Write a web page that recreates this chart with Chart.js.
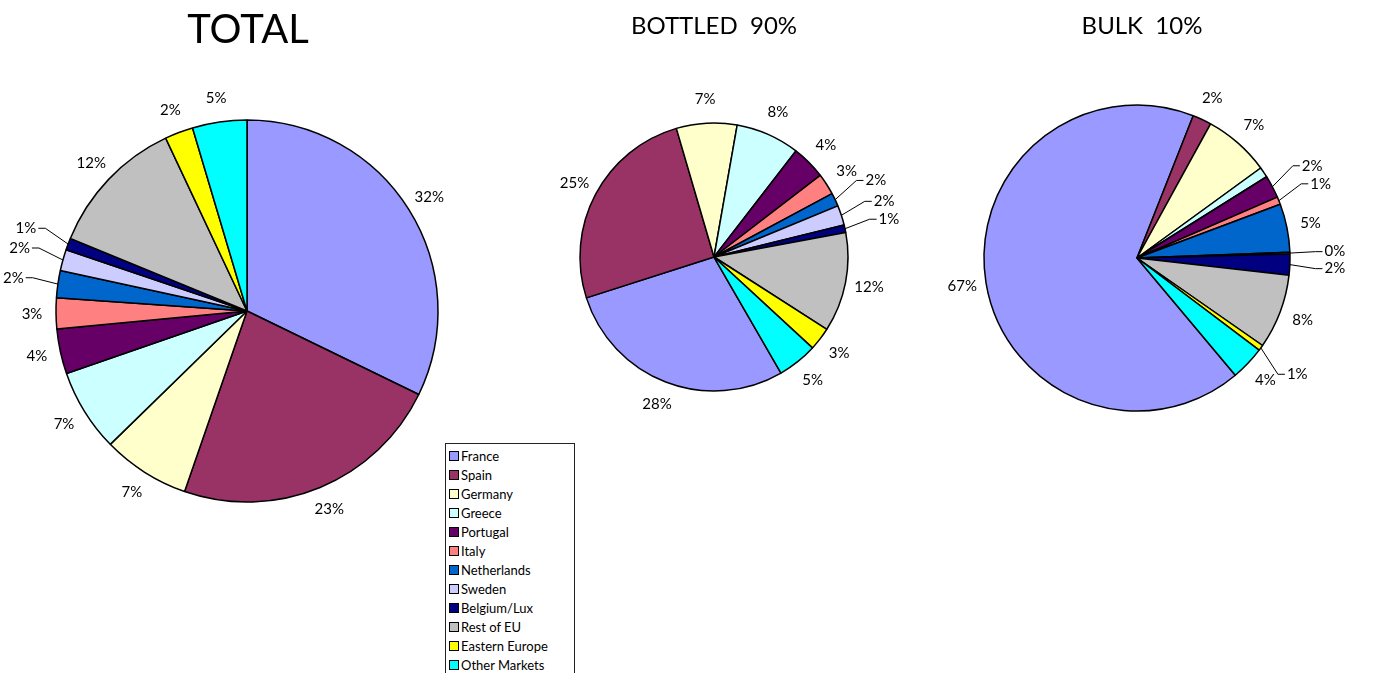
<!DOCTYPE html>
<html>
<head>
<meta charset="utf-8">
<script src="https://cdn.jsdelivr.net/npm/chart.js@4.4.0/dist/chart.umd.min.js"></script>
<style>
html, body { margin: 0; padding: 0; background: #fff; overflow: hidden; }
#wrap { position: relative; width: 1392px; height: 673px; overflow: hidden; font-family: Lato, sans-serif; color: #000; }
canvas { position: absolute; left: 0; top: 0; }
.title { position: absolute; white-space: pre; line-height: 1; transform: translateX(-50%); }
#legend { position: absolute; left: 445px; top: 443px; width: 130px; height: 250px; border: 1px solid #222; box-sizing: border-box; padding-top: 2px; background: #fff; }
.item { height: 19px; display: flex; align-items: center; font-size: 13px; padding-left: 3px; }
.sw { width: 8px; height: 8px; border: 1px solid #000; margin-right: 2px; }
</style>
</head>
<body>
<div id="wrap">
  <canvas id="chartTotal" width="1392" height="673"></canvas>
  <canvas id="chartBottled" width="1392" height="673"></canvas>
  <canvas id="chartBulk" width="1392" height="673"></canvas>
  <div class="title" style="left:248px; top:8px; font-size:40px;">TOTAL</div>
  <div class="title" style="left:714px; top:13px; font-size:24px;">BOTTLED  90%</div>
  <div class="title" style="left:1142px; top:13px; font-size:24px;">BULK  10%</div>
  <div id="legend"></div>
</div>
<script>
// Data
const categories = ['France', 'Spain', 'Germany', 'Greece', 'Portugal', 'Italy', 'Netherlands',
                    'Sweden', 'Belgium/Lux', 'Rest of EU', 'Eastern Europe', 'Other Markets'];
const colors = ['#9999FF', '#993366', '#FFFFCC', '#CCFFFF', '#660066', '#FF8080', '#0066CC',
                '#CCCCFF', '#000080', '#C0C0C0', '#FFFF00', '#00FFFF'];
const totalValues   = [32.2, 23.1, 7.4, 7.0, 3.8, 2.6, 2.3, 1.8, 1.0, 11.8, 2.4, 4.6];
const bottledValues = [28.4, 25.4, 7.3, 7.7, 4.1, 2.6, 1.6, 2.4, 0.9, 12.0, 2.8, 4.8];
const bulkValues    = [67.1, 2.0, 7.0, 1.1, 2.4, 0.8, 5.1, 0.2, 2.2, 7.9, 0.6, 3.6];
const bulkHidden = ['Greece']; // no label on this slice in the original

const W = 1392, H = 673;

// legend
const legend = document.getElementById('legend');
categories.forEach(function (name, i) {
    const row = document.createElement('div');
    row.className = 'item';
    row.innerHTML = '<span class="sw" style="background:' + colors[i] + '"></span><span>' + name + '</span>';
    legend.appendChild(row);
});

// percentage labels outside the pie, with leader lines for the small / crowded ones
const labelPlugin = {
    id: 'pctLabels',
    afterDatasetsDraw: function (chart, args, opts) {
        const ctx = chart.ctx;
        const meta = chart.getDatasetMeta(0);
        const values = chart.data.datasets[0].data;
        const total = values.reduce(function (a, b) { return a + b; }, 0);
        const hidden = opts.hidden || [];
        const h = 17;
        ctx.save();
        ctx.font = '15px Lato';
        ctx.textAlign = 'center';
        ctx.textBaseline = 'middle';
        ctx.fillStyle = '#000';
        ctx.strokeStyle = '#000';
        ctx.lineWidth = 1;

        const items = [];
        meta.data.forEach(function (arc, i) {
            if (hidden.indexOf(chart.data.labels[i]) >= 0) return;
            const pct = values[i] / total * 100;
            const text = Math.round(pct) + '%';
            const mid = (arc.startAngle + arc.endAngle) / 2;
            // small slices on the sides get pulled out; top/bottom ones have room
            const small = pct < 2.5 && Math.abs(Math.cos(mid)) > 0.5;
            const R = arc.outerRadius + (small ? 45 : 24);
            items.push({
                text: text, mid: mid, leader: small, arc: arc,
                x: arc.x + Math.cos(mid) * R,
                y: arc.y + Math.sin(mid) * R,
                w: ctx.measureText(text).width
            });
        });

        // push overlapping labels down, one side at a time
        [true, false].forEach(function (right) {
            const side = items.filter(function (it) { return (Math.cos(it.mid) >= 0) === right; })
                              .sort(function (a, b) { return a.y - b.y; });
            for (let i = 1; i < side.length; i++) {
                for (let j = 0; j < i; j++) {
                    const a = side[j], b = side[i];
                    if (Math.abs(a.x - b.x) < (a.w + b.w) / 2 + 4 && b.y - a.y < h) {
                        b.y = a.y + h;
                        b.leader = true;
                    }
                }
            }
        });

        items.forEach(function (it) {
            if (it.leader) {
                const r = it.arc.outerRadius;
                const ex = it.arc.x + Math.cos(it.mid) * r;
                const ey = it.arc.y + Math.sin(it.mid) * r;
                ctx.beginPath();
                ctx.moveTo(ex, ey);
                if (Math.abs(it.x - ex) > Math.abs(it.y - ey)) {
                    const dir = it.x > ex ? 1 : -1;
                    const ax = it.x - dir * (it.w / 2 + 2);
                    ctx.lineTo(ax - dir * 7, it.y);
                    ctx.lineTo(ax, it.y);
                } else {
                    const dirY = it.y > ey ? 1 : -1;
                    ctx.lineTo(it.x, it.y - dirY * (h / 2));
                }
                ctx.stroke();
            }
            ctx.fillText(it.text, it.x, it.y);
        });
        ctx.restore();
    }
};

function makePie(id, values, cx, cy, r, rotation, hidden) {
    const canvas = document.getElementById(id);
    if (!canvas) return;
    new Chart(canvas.getContext('2d'), {
        type: 'pie',
        data: {
            labels: categories,
            datasets: [{
                data: values,
                backgroundColor: colors,
                borderColor: '#000',
                borderWidth: 1.5,
                radius: r
            }]
        },
        options: {
            responsive: false,
            animation: false,
            events: [],
            rotation: rotation,
            layout: { padding: { left: cx - 200, right: W - cx - 200, top: cy - 200, bottom: H - cy - 200 } },
            plugins: {
                legend: { display: false },
                tooltip: { enabled: false },
                pctLabels: { hidden: hidden }
            }
        },
        plugins: [labelPlugin]
    });
}

makePie('chartTotal', totalValues, 247, 311, 191, 0, []);
makePie('chartBottled', bottledValues, 714, 257, 134, 150, []);
makePie('chartBulk', bulkValues, 1137, 258, 153, 140, bulkHidden);
</script>
</body>
</html>
